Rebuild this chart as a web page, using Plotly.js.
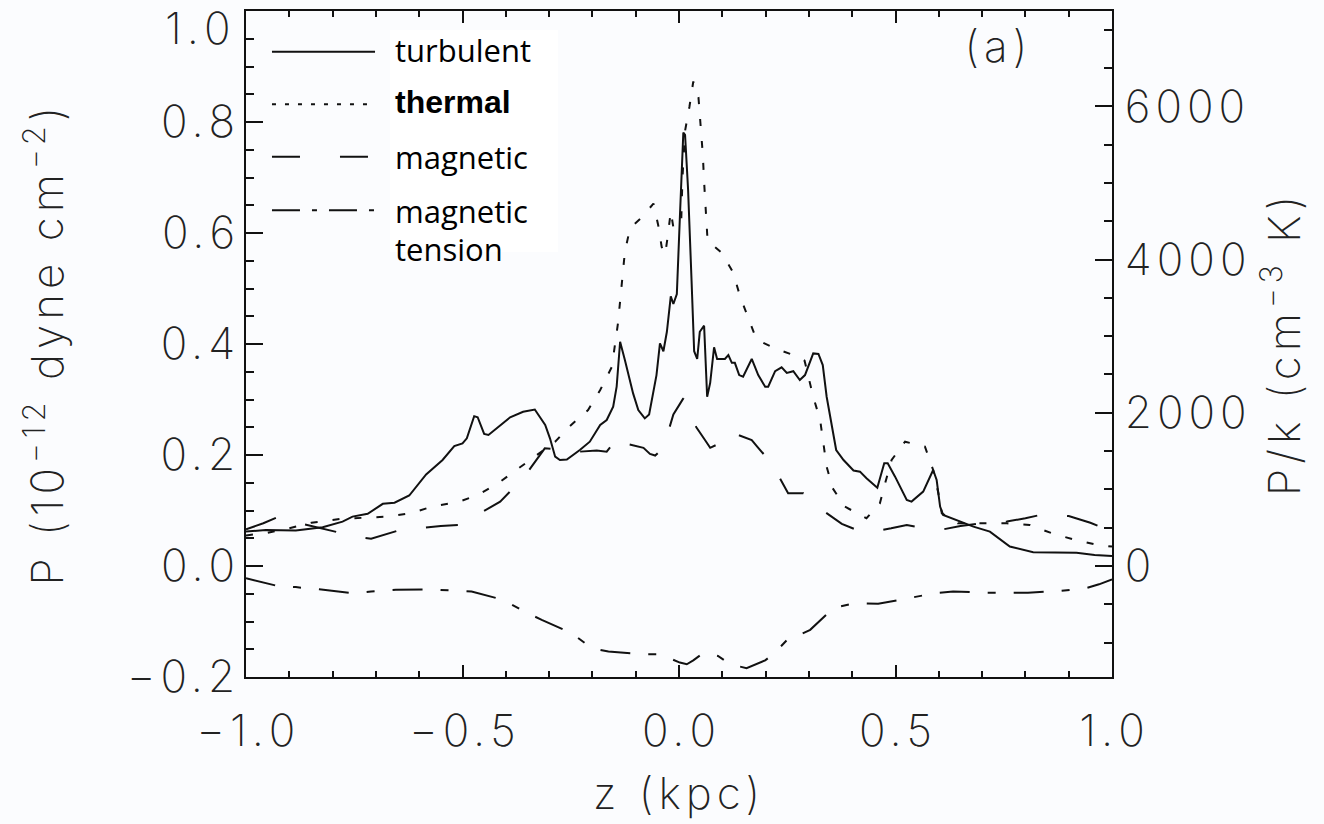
<!DOCTYPE html>
<html>
<head>
<meta charset="utf-8">
<script src="https://cdn.plot.ly/plotly-3.0.1.min.js"></script>
<style>
  html, body { margin: 0; padding: 0; background: #fbfcfe; }
  #chart { width: 1324px; height: 824px; }
  /* wide, airy lettering for the axis titles and panel tag */
  #chart text.xtitle,
  #chart .annotation[data-index="5"] text,
  #chart .annotation[data-index="7"] text,
  #chart .annotation[data-index="8"] text {
    letter-spacing: 5px;
  }
</style>
</head>
<body>
<div id="chart"></div>
<script>
// Pressure profiles across the disc, z in kpc, P in 1e-12 dyne cm^-2
const zTurb = [-1, -0.954, -0.885, -0.823, -0.777, -0.754, -0.719, -0.684, -0.657, -0.623,
  -0.584, -0.546, -0.519, -0.5, -0.49, -0.473, -0.465, -0.45, -0.44, -0.39,
  -0.36, -0.333, -0.309, -0.298, -0.286, -0.275, -0.259, -0.229, -0.206, -0.182,
  -0.167, -0.152, -0.144, -0.136, -0.125, -0.106, -0.094, -0.079, -0.069, -0.059,
  -0.052, -0.044, -0.036, -0.028, -0.019, -0.013, -0.005, 0.002, 0.01, 0.014,
  0.021, 0.029, 0.035, 0.042, 0.048, 0.058, 0.065, 0.072, 0.081, 0.088,
  0.106, 0.114, 0.122, 0.129, 0.139, 0.148, 0.168, 0.183, 0.199, 0.206,
  0.222, 0.237, 0.249, 0.264, 0.279, 0.291, 0.31, 0.322, 0.332, 0.341,
  0.353, 0.363, 0.38, 0.403, 0.418, 0.433, 0.458, 0.474, 0.482, 0.499,
  0.526, 0.537, 0.564, 0.587, 0.595, 0.603, 0.61, 0.641, 0.68, 0.718,
  0.764, 0.818, 0.918, 0.96, 1.0];
const pTurb = [0.062, 0.065, 0.064, 0.07, 0.08, 0.089, 0.094, 0.112, 0.114, 0.127,
  0.165, 0.191, 0.216, 0.221, 0.23, 0.27, 0.268, 0.238, 0.236, 0.268,
  0.278, 0.282, 0.254, 0.23, 0.197, 0.191, 0.192, 0.209, 0.224, 0.254,
  0.263, 0.287, 0.323, 0.404, 0.371, 0.311, 0.281, 0.266, 0.273, 0.316,
  0.344, 0.401, 0.387, 0.422, 0.486, 0.472, 0.49, 0.628, 0.781, 0.777,
  0.678, 0.514, 0.387, 0.373, 0.422, 0.433, 0.305, 0.33, 0.394, 0.373,
  0.373, 0.38, 0.366, 0.366, 0.344, 0.341, 0.373, 0.344, 0.323, 0.323,
  0.351, 0.358, 0.348, 0.351, 0.335, 0.344, 0.383, 0.382, 0.362, 0.305,
  0.251, 0.209, 0.191, 0.172, 0.17, 0.158, 0.141, 0.185, 0.185, 0.161,
  0.119, 0.116, 0.134, 0.173, 0.155, 0.107, 0.092, 0.083, 0.071, 0.062,
  0.035, 0.025, 0.024, 0.02, 0.018];

const zTherm = [-1, -0.95, -0.9, -0.849, -0.779, -0.727, -0.673, -0.62, -0.566, -0.511,
  -0.464, -0.418, -0.372, -0.328, -0.286, -0.252, -0.21, -0.182, -0.155, -0.141,
  -0.132, -0.125, -0.113, -0.086, -0.059, -0.048, -0.04, -0.032, -0.025, -0.019,
  -0.013, 0.005, 0.008, 0.014, 0.024, 0.033, 0.045, 0.05, 0.055, 0.058,
  0.062, 0.066, 0.099, 0.125, 0.141, 0.16, 0.179, 0.222, 0.264, 0.29,
  0.31, 0.326, 0.333, 0.341, 0.355, 0.383, 0.433, 0.464, 0.476, 0.491,
  0.522, 0.568, 0.587, 0.599, 0.607, 0.644, 0.703, 0.757, 0.81, 0.861,
  0.915, 0.968, 1.0];
const pTherm = [0.055, 0.06, 0.068, 0.078, 0.085, 0.087, 0.089, 0.095, 0.108, 0.115,
  0.128, 0.149, 0.175, 0.2, 0.224, 0.252, 0.281, 0.317, 0.359, 0.437,
  0.515, 0.566, 0.609, 0.628, 0.653, 0.614, 0.575, 0.561, 0.6, 0.639,
  0.61, 0.617, 0.699, 0.784, 0.827, 0.873, 0.844, 0.798, 0.741, 0.692,
  0.628, 0.586, 0.564, 0.529, 0.486, 0.447, 0.408, 0.392, 0.38, 0.37,
  0.305, 0.263, 0.221, 0.179, 0.14, 0.107, 0.086, 0.113, 0.149, 0.191,
  0.224, 0.215, 0.173, 0.131, 0.095, 0.077, 0.077, 0.077, 0.074, 0.059,
  0.047, 0.038, 0.035];

const zMag = [-1, -0.96, -0.93, -0.87, -0.83, -0.79, -0.74, -0.711, -0.68, -0.64,
  -0.6, -0.55, -0.506, -0.479, -0.45, -0.413, -0.36, -0.33, -0.31, -0.28,
  -0.25, -0.19, -0.167, -0.136, -0.12, -0.082, -0.067, -0.055, -0.036, -0.013,
  0.01, 0.021, 0.04, 0.06, 0.072, 0.091, 0.11, 0.14, 0.168, 0.183,
  0.214, 0.252, 0.287, 0.314, 0.35, 0.376, 0.41, 0.449, 0.49, 0.526,
  0.564, 0.603, 0.65, 0.7, 0.757, 0.8, 0.84, 0.9, 0.95, 1.0];
const pMag = [0.066, 0.077, 0.087, 0.076, 0.068, 0.061, 0.052, 0.049, 0.056, 0.066,
  0.068, 0.072, 0.074, 0.086, 0.098, 0.116, 0.158, 0.19, 0.212, 0.21,
  0.205, 0.208, 0.206, 0.236, 0.22, 0.213, 0.202, 0.199, 0.213, 0.273,
  0.302, 0.28, 0.25, 0.227, 0.213, 0.22, 0.241, 0.235, 0.227, 0.213,
  0.185, 0.131, 0.131, 0.11, 0.09, 0.076, 0.065, 0.062, 0.068, 0.074,
  0.068, 0.065, 0.072, 0.077, 0.08, 0.086, 0.093, 0.09, 0.078, 0.062];

const zTens = [-1, -0.927, -0.885, -0.865, -0.831, -0.754, -0.711, -0.654, -0.577, -0.519,
  -0.479, -0.406, -0.371, -0.352, -0.317, -0.248, -0.217, -0.202, -0.163, -0.086,
  -0.044, 0.002, 0.018, 0.033, 0.052, 0.068, 0.09, 0.106, 0.118, 0.156,
  0.199, 0.222, 0.252, 0.268, 0.303, 0.356, 0.399, 0.418, 0.46, 0.53,
  0.572, 0.591, 0.633, 0.707, 0.806, 0.88, 0.94, 0.97, 1.0];
const pTens = [-0.022, -0.036, -0.038, -0.04, -0.042, -0.049, -0.046, -0.043, -0.042, -0.045,
  -0.046, -0.061, -0.076, -0.084, -0.097, -0.121, -0.139, -0.148, -0.154, -0.159,
  -0.159, -0.174, -0.177, -0.17, -0.159, -0.158, -0.162, -0.17, -0.177, -0.184,
  -0.17, -0.156, -0.131, -0.128, -0.115, -0.076, -0.068, -0.067, -0.068, -0.058,
  -0.052, -0.049, -0.046, -0.048, -0.048, -0.045, -0.04, -0.033, -0.024];

// Axis ticks
const xTickVals = [-1, -0.5, 0, 0.5, 1];
const xTickText = ['\u22121.0', '\u22120.5', '0.0', '0.5', '1.0'];
const yTickVals = [-0.2, 0, 0.2, 0.4, 0.6, 0.8];
const yTickText = ['\u22120.2', '0.0', '0.2', '0.4', '0.6', '0.8'];
const yTopLabel = '1.0';
const kTickVals = [0, 2000, 4000, 6000];
const kTickText = ['0', '2000', '4000', '6000'];

// Axis titles
const xTitle = 'z (kpc)';
const yTitle = 'P (10<sup>\u221212</sup> dyne cm<sup>\u22122</sup>)';
const kTitle = 'P/k (cm<sup>\u22123</sup> K)';

// Series names for the key
const seriesNames = ['turbulent', 'thermal', 'magnetic', 'magnetic', 'tension'];

// 1e-12 dyne cm^-2 divided by Boltzmann's constant, in K cm^-3
const P_TO_K = 1e-12 / 1.380649e-16;

// open up the letters of a label without padding after the last one
const spaced = s => s.length > 1
  ? '<span style="letter-spacing:5px">' + s.slice(0, -1) + '</span>' + s.slice(-1)
  : s;

const INK = '#111';
const axisFont = { family: 'Inter, "DejaVu Sans", sans-serif', size: 44, color: '#222', weight: 200 };
const keyFont = { family: '"Open Sans", sans-serif', size: 31, color: '#000' };
const keyFontAlt = { family: '"Liberation Sans", Arial, sans-serif', size: 32, color: '#000', weight: 'bold' };

const lineStyles = {
  turbulent: 'solid',
  thermal: '7px,15px',
  magnetic: '32px,30px',
  tension: '30px,18px,8px,18px'
};

const traces = [
  { x: zTurb, y: pTurb, name: seriesNames[0], dash: lineStyles.turbulent },
  { x: zTherm, y: pTherm, name: seriesNames[1], dash: lineStyles.thermal },
  { x: zMag, y: pMag, name: seriesNames[2], dash: lineStyles.magnetic },
  { x: zTens, y: pTens, name: 'magnetic tension', dash: lineStyles.tension }
].map(s => ({
  type: 'scatter', mode: 'lines', x: s.x, y: s.y, name: s.name,
  line: { color: INK, width: 2, dash: s.dash }, hoverinfo: 'skip'
}));

// empty companion trace so the P/k axis is laid out
traces.push({ type: 'scatter', x: [], y: [], yaxis: 'y2', showlegend: false, hoverinfo: 'skip' });

// key geometry in paper units
const keyX0 = 0.030, keyX1 = 0.149, keyTextX = 0.1694;
const keyRows = [0.939, 0.860, 0.781, 0.701];
const keyTextY = [0.9414, 0.8634, 0.781, 0.6997, 0.6426];
const keyDash = [lineStyles.turbulent, '4px,9px', '28px,40px', '28px,12px,5px,12px'];

const shapes = [{
  type: 'rect', xref: 'paper', yref: 'paper', x0: 0.1663, x1: 0.3603, y0: 0.638, y1: 0.9715,
  fillcolor: '#ffffff', line: { width: 0 }, layer: 'below'
}];
keyRows.forEach((yy, i) => shapes.push({
  type: 'line', xref: 'paper', yref: 'paper', x0: keyX0, x1: keyX1, y0: yy, y1: yy,
  line: { color: INK, width: 2, dash: keyDash[i] }
}));

// 0-4: key labels, 5: panel tag, 6: top tick label, 7-8: vertical axis titles
const annotations = seriesNames.map((t, i) => ({
  xref: 'paper', yref: 'paper', x: keyTextX, y: keyTextY[i], xanchor: 'left', yanchor: 'middle',
  text: t, showarrow: false, font: i === 1 ? keyFontAlt : keyFont
}));
annotations.push({
  xref: 'paper', yref: 'paper', x: 0.869, y: 0.9474, xanchor: 'center', yanchor: 'middle',
  text: '(a)', showarrow: false, font: axisFont
});
annotations.push({
  xref: 'paper', yref: 'y', x: 0, y: 1.0, xanchor: 'right', yanchor: 'middle',
  xshift: -14, yshift: -17, text: spaced(yTopLabel), showarrow: false, font: axisFont
});
annotations.push({
  xref: 'paper', yref: 'paper', x: 0, y: 0.5, xanchor: 'center', yanchor: 'middle',
  xshift: -202, textangle: -90, text: yTitle, showarrow: false, font: axisFont
});
annotations.push({
  xref: 'paper', yref: 'paper', x: 1, y: 0.5, xanchor: 'center', yanchor: 'middle',
  xshift: 169, textangle: -90, text: kTitle, showarrow: false, font: axisFont
});

const axisCommon = {
  showline: true, linewidth: 2, linecolor: INK, showgrid: false, zeroline: false,
  ticks: 'inside', tickwidth: 2, tickcolor: INK, tickfont: axisFont
};

const layout = {
  width: 1324, height: 824,
  margin: { l: 246, r: 212, t: 11, b: 147 },
  paper_bgcolor: '#fbfcfe', plot_bgcolor: '#fbfcfe',
  showlegend: false,
  xaxis: Object.assign({}, axisCommon, {
    range: [-1, 1], tickvals: xTickVals, ticktext: xTickText.map(spaced),
    ticklen: 12, mirror: 'ticks', ticklabelstandoff: 14,
    minor: { dtick: 0.1, ticks: 'inside', ticklen: 6, tickwidth: 2, tickcolor: INK },
    title: { text: xTitle, font: axisFont, standoff: 22 }
  }),
  yaxis: Object.assign({}, axisCommon, {
    range: [-0.2, 1.0], tickvals: yTickVals, ticktext: yTickText.map(spaced),
    ticklen: 17, ticklabelstandoff: 0,
    minor: { dtick: 0.05, ticks: 'inside', ticklen: 8, tickwidth: 2, tickcolor: INK }
  }),
  yaxis2: Object.assign({}, axisCommon, {
    overlaying: 'y', side: 'right', anchor: 'x',
    range: [-0.2 * P_TO_K, 1.0 * P_TO_K], tickvals: kTickVals, ticktext: kTickText.map(spaced),
    ticklen: 17, ticklabelstandoff: 2,
    minor: { dtick: 500, ticks: 'inside', ticklen: 8, tickwidth: 2, tickcolor: INK }
  }),
  shapes: shapes,
  annotations: annotations
};

Plotly.newPlot('chart', traces, layout, { staticPlot: true, displayModeBar: false });
</script>
</body>
</html>
